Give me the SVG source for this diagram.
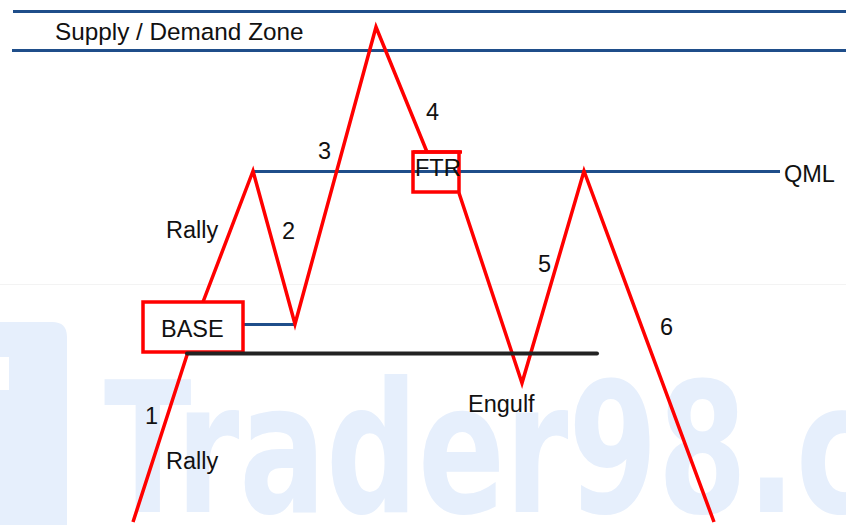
<svg xmlns="http://www.w3.org/2000/svg" width="846" height="525" viewBox="0 0 846 525">
<style>
.lbl{font-family:"Liberation Sans",Arial,sans-serif;font-size:23.5px;fill:#111}
.red{fill:none;stroke:#ff0000;stroke-width:3.5;stroke-linejoin:miter;stroke-linecap:butt}
.blue{fill:none;stroke:#1f4e8a;stroke-width:3}
.box{fill:none;stroke:#ff0000;stroke-width:3.5}
.wm{fill:#e6effc}
</style>
<rect width="846" height="525" fill="#ffffff"/>
<g id="watermark">
<line x1="0" y1="284.5" x2="846" y2="284.5" stroke="#f3f3f3" stroke-width="1"/>
<path class="wm" d="M0,322 H52 Q67,322 67,337 V525 H0 Z"/>
<rect x="0" y="357" width="9" height="33" fill="#ffffff"/>
<text x="104" y="512" font-family="'DejaVu Sans Condensed','DejaVu Sans',sans-serif" font-weight="bold" font-size="182" textLength="768" lengthAdjust="spacingAndGlyphs" fill="#e6effc">Trader98.c</text>
</g>
<g id="connectors">
<line class="blue" x1="13" y1="11.5" x2="846" y2="11.5"/>
<line class="blue" x1="12" y1="50.5" x2="846" y2="50.5"/>
<line class="blue" x1="253" y1="171.5" x2="780" y2="171.5"/>
<line class="blue" x1="240" y1="324.5" x2="296" y2="324.5" stroke-width="2.5"/>
<polyline class="red" points="133,522 187,355 203,302 253,171 295,324 376,27 427,152"/>
<polyline class="red" points="459,193 522,383 584,171 714,522"/>
</g>
<g id="base">
<rect x="143" y="302" width="100" height="50" fill="#ffffff" stroke="#ff0000" stroke-width="3.5"/>
<text class="lbl" x="161" y="337">BASE</text>
</g>
<line id="engulf-level" x1="187" y1="353.5" x2="597" y2="353.5" stroke="#222222" stroke-width="4" stroke-linecap="round"/>
<g id="ftr">
<rect class="box" x="413" y="152" width="46" height="40"/>
<line x1="413" y1="152" x2="462" y2="152" stroke="#ff0000" stroke-width="3.5"/>
<text class="lbl" x="415" y="176">FTR</text>
</g>
<g id="labels">
<text class="lbl" x="55" y="40" style="font-size:24.3px">Supply / Demand Zone</text>
<text class="lbl" x="784" y="182">QML</text>
<text class="lbl" x="426" y="120">4</text>
<text class="lbl" x="318" y="159">3</text>
<text class="lbl" x="166" y="238">Rally</text>
<text class="lbl" x="282" y="239">2</text>
<text class="lbl" x="538" y="272">5</text>
<text class="lbl" x="660" y="335">6</text>
<text class="lbl" x="145" y="424">1</text>
<text class="lbl" x="166" y="469">Rally</text>
<text class="lbl" x="468" y="412">Engulf</text>
</g>
</svg>
